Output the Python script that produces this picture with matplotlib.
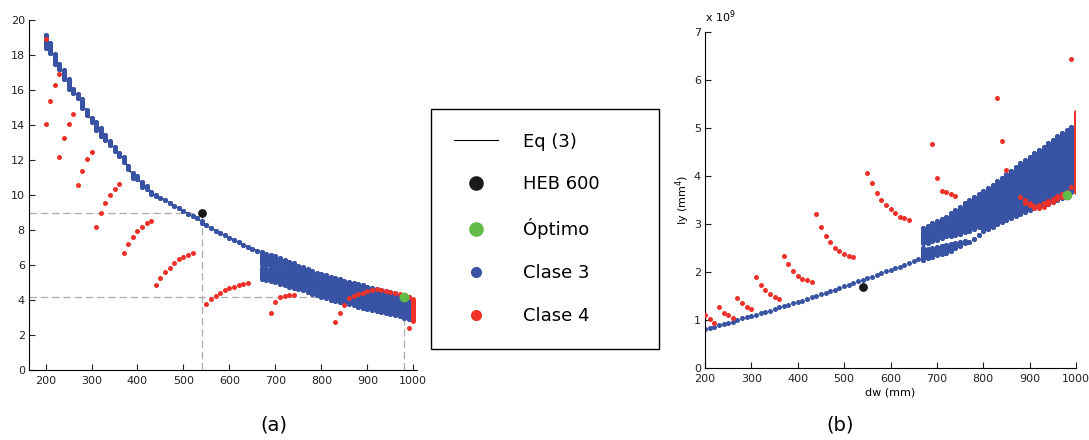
import numpy as np
import matplotlib.pyplot as plt
from matplotlib.lines import Line2D

BLUE = '#3853a4'
RED = '#ee3129'
GREEN = '#62bb46'
BLACK = '#1a1a1a'
GREY = '#ababab'

# ---------------- panel (a) ----------------
# single curve part (Clase 3), upper / lower dot of each dw
a_x = list(range(200, 670, 10))
a_hi = [19.13, 18.71, 18.06, 17.5, 17.15, 16.62, 16.05, 15.77, 15.48, 14.84,
        14.4, 14.17, 13.83, 13.45, 13.07, 12.77, 12.41, 12.16, 11.65, 11.27,
        11.08, 10.74, 10.51, 10.17, 10.0, 9.85, 9.71, 9.56, 9.39, 9.24,
        9.09, 8.93, 8.8, 8.67, 8.5, 8.27, 8.1, 7.96, 7.83, 7.7,
        7.56, 7.43, 7.3, 7.16, 7.05, 6.93, 6.82]
a_lo = [18.42, 18.12, 17.48, 17.19, 16.62, 16.05, 15.83, 15.52, 14.97, 14.6,
        14.15, 13.74, 13.4, 13.17, 12.87, 12.5, 12.22, 11.9, 11.46, 10.99,
        10.89, 10.47, 10.36, 10.04, 9.94, 9.85, 9.71, 9.56, 9.39, 9.24,
        9.09, 8.93, 8.8, 8.67, 8.42, 8.27, 8.1, 7.96, 7.83, 7.7,
        7.56, 7.43, 7.3, 7.16, 7.05, 6.93, 6.82]

# dense band (Clase 3), one column per dw
band_x = list(range(670, 1000, 10))
a_top = [6.73, 6.65, 6.57, 6.5, 6.4, 6.3, 6.2, 6.1, 5.97, 5.86, 5.76, 5.66,
         5.57, 5.5, 5.42, 5.34, 5.26, 5.18, 5.11, 5.03, 4.96, 4.89, 4.83,
         4.76, 4.7, 4.64, 4.57, 4.51, 4.45, 4.38, 4.31, 4.24, 4.15]
a_bot = [5.2, 5.13, 5.07, 5.02, 4.93, 4.85, 4.77, 4.7, 4.64, 4.55, 4.45, 4.35,
         4.26, 4.18, 4.1, 4.02, 3.95, 3.88, 3.82, 3.75, 3.69, 3.62, 3.56,
         3.5, 3.44, 3.39, 3.33, 3.28, 3.22, 3.14, 3.07, 3.0, 2.93]
a_gap_x = [670, 680, 690, 700, 710, 720, 730, 740]
a_gap_up = [6.05, 6.0, 5.95, 5.88, 5.82, 5.76, 5.7, 5.62]
a_gap_dn = [5.85, 5.8, 5.75, 5.7, 5.64, 5.58, 5.52, 5.46]

# Clase 4
a_red_x = [200,
           200, 210, 220, 230,
           230, 240, 250, 260,
           270, 280, 290, 300,
           310, 320, 330, 340, 350, 360,
           370, 380, 390, 400, 410, 420, 430,
           440, 450, 460, 470, 480, 490, 500, 510, 520,
           550, 560, 570, 580, 590, 600, 610, 620, 630, 640,
           690, 700, 710, 720, 730, 740,
           830, 840, 850, 860, 870, 880, 890, 900, 910, 920, 930, 940,
           950, 960, 970, 980, 990,
           990]
a_red_y = [18.92,
           14.08, 15.37, 16.3, 16.94,
           12.16, 13.26, 14.08, 14.61,
           10.59, 11.4, 12.05, 12.45,
           8.19, 8.95, 9.54, 10.0, 10.34, 10.65,
           6.67, 7.2, 7.6, 7.94, 8.19, 8.42, 8.53,
           4.84, 5.24, 5.62, 5.85, 6.1, 6.32, 6.48, 6.57, 6.67,
           3.79, 4.04, 4.21, 4.4, 4.55, 4.69, 4.76, 4.88, 4.93, 4.97,
           3.26, 3.87, 4.15, 4.25, 4.29, 4.29,
           2.72, 3.28, 3.7, 4.1, 4.23, 4.34, 4.42, 4.53, 4.57, 4.61, 4.57, 4.53,
           4.48, 4.38, 4.34, 4.25, 4.15,
           2.38]
a_red_col = (1000, 2.78, 4.05)

a_heb = (540, 9.0)
a_opt = (980, 4.2)

# ---------------- panel (b) ----------------
b_x = list(range(200, 670, 10))
b_y = [0.81, 0.83, 0.87, 0.90, 0.92, 0.95, 0.97, 1.01, 1.04, 1.06,
       1.09, 1.12, 1.15, 1.18, 1.20, 1.24, 1.27, 1.30, 1.32, 1.35,
       1.38, 1.41, 1.45, 1.48, 1.51, 1.54, 1.57, 1.60, 1.63, 1.67,
       1.71, 1.74, 1.77, 1.81, 1.84, 1.88, 1.91, 1.95, 1.98, 2.02,
       2.05, 2.09, 2.12, 2.16, 2.19, 2.23, 2.27]
b_top = [2.92, 2.97, 3.02, 3.06, 3.11, 3.16, 3.23, 3.30, 3.37, 3.44, 3.51,
         3.57, 3.63, 3.69, 3.76, 3.82, 3.90, 3.97, 4.05, 4.12, 4.20, 4.27,
         4.34, 4.41, 4.48, 4.55, 4.62, 4.69, 4.76, 4.83, 4.90, 4.96, 5.03]
b_bot = [2.26, 2.29, 2.32, 2.36, 2.38, 2.40, 2.45, 2.50, 2.55, 2.60, 2.64,
         2.70, 2.77, 2.85, 2.90, 2.95, 3.00, 3.05, 3.09, 3.13, 3.17, 3.21,
         3.25, 3.30, 3.33, 3.36, 3.40, 3.43, 3.47, 3.50, 3.55, 3.60, 3.68]
b_gap_x = [670, 680, 690, 700, 710, 720, 730, 740, 750, 760, 770, 780, 790]
b_gap_up = [2.60, 2.62, 2.65, 2.68, 2.72, 2.75, 2.75, 2.78, 2.80, 2.84, 2.86, 2.90, 2.95]
b_gap_dn = [2.50, 2.48, 2.50, 2.52, 2.55, 2.56, 2.58, 2.60, 2.64, 2.66, 2.64, 2.70, 2.77]

b_red_x = [200, 210, 220,
           230, 240, 250, 260,
           270, 280, 290, 300,
           310, 320, 330, 340, 350, 360,
           370, 380, 390, 400, 410, 420, 430,
           440, 450, 460, 470, 480, 490, 500, 510, 520,
           550, 560, 570, 580, 590, 600, 610, 620, 630, 640,
           690, 700, 710, 720, 730, 740,
           830, 840, 850,
           880, 890, 900, 910, 920, 930, 940, 950, 960, 970, 980, 990,
           890, 900, 910, 920, 930, 940, 950, 960, 970,
           990]
b_red_y = [1.11, 1.02, 0.95,
           1.28, 1.16, 1.10, 1.05,
           1.47, 1.37, 1.28, 1.24,
           1.90, 1.74, 1.63, 1.55, 1.48, 1.44,
           2.33, 2.17, 2.03, 1.93, 1.87, 1.83, 1.79,
           3.21, 2.94, 2.76, 2.63, 2.51, 2.45, 2.38, 2.33, 2.31,
           4.07, 3.85, 3.66, 3.51, 3.40, 3.31, 3.23, 3.16, 3.13, 3.09,
           4.67, 3.97, 3.70, 3.67, 3.63, 3.58,
           5.63, 4.73, 4.13,
           3.56, 3.51, 3.45, 3.39, 3.40, 3.44, 3.48, 3.53, 3.58, 3.63, 3.68, 3.78,
           3.45, 3.40, 3.34, 3.33, 3.37, 3.42, 3.47, 3.52, 3.57,
           6.45]
b_red_col = (1000, 3.68, 5.35)

b_heb = (540, 1.69)
b_opt = (980, 3.61)

DOT = 13      # scatter size of the small dots
LW = 3.6      # same diameter for the dense columns


def column_segments(xs, top, bot, gx, gup, gdn):
    segs = []
    for x, t, b in zip(xs, top, bot):
        if x in gx:
            i = gx.index(x)
            segs.append([(x, b), (x, gdn[i])])
            segs.append([(x, gup[i]), (x, t)])
        else:
            segs.append([(x, b), (x, t)])
    return segs


def draw_segments(ax, segs, color):
    for s in segs:
        (x, y0), (_, y1) = s
        ax.vlines(x, y0, y1, colors=color, linewidth=LW, capstyle='round', zorder=2)
        ax.scatter([x, x], [y0, y1], s=DOT, color=color, linewidths=0, zorder=2)


def style(ax):
    ax.spines['top'].set_visible(False)
    ax.spines['right'].set_visible(False)
    ax.spines['left'].set_linewidth(0.8)
    ax.spines['bottom'].set_linewidth(0.8)
    ax.tick_params(direction='in', length=4, width=0.8, labelsize=8, colors='#222222')
    ax.tick_params(axis='y', pad=3)
    ax.tick_params(axis='x', pad=4)


fig = plt.figure(figsize=(10.89, 4.4), dpi=100, facecolor='w')

# ---- (a) ----
ax1 = fig.add_axes([29 / 1089, 1 - 370 / 440, 388 / 1089, 350 / 440])
ax1.plot(a_x, [(h + l) / 2 for h, l in zip(a_hi, a_lo)], color='black', lw=0.8, zorder=1)
draw_segments(ax1, [[(x, l), (x, h)] for x, h, l in zip(a_x, a_hi, a_lo)], BLUE)
draw_segments(ax1, column_segments(band_x, a_top, a_bot, a_gap_x, a_gap_up, a_gap_dn), BLUE)
ax1.scatter(a_red_x, a_red_y, s=DOT, color=RED, linewidths=0, zorder=3)
ax1.vlines(a_red_col[0], a_red_col[1], a_red_col[2], colors=RED, linewidth=LW,
           capstyle='round', zorder=3)
ax1.set_xlim(164, 1008)
ax1.set_ylim(0, 20)
x0 = ax1.get_xlim()[0]
for px, py in (a_heb, a_opt):
    ax1.plot([x0, px], [py, py], color=GREY, lw=0.9, dashes=(6, 3), zorder=0)
    ax1.plot([px, px], [0, py], color=GREY, lw=0.9, dashes=(6, 3), zorder=0)
ax1.scatter(*a_heb, s=40, color=BLACK, linewidths=0, zorder=5)
ax1.scatter(*a_opt, s=50, color=GREEN, linewidths=0, zorder=5)
ax1.set_xticks(range(200, 1001, 100))
ax1.set_yticks(range(0, 21, 2))
style(ax1)

# ---- (b) ----
ax2 = fig.add_axes([705 / 1089, 1 - 368.3 / 440, 371 / 1089, 336 / 440])
ax2.scatter(b_x, b_y, s=DOT, color=BLUE, linewidths=0, zorder=2)
draw_segments(ax2, column_segments(band_x, b_top, b_bot, b_gap_x, b_gap_up, b_gap_dn), BLUE)
ax2.scatter(b_red_x, b_red_y, s=DOT, color=RED, linewidths=0, zorder=3)
ax2.vlines(b_red_col[0], b_red_col[1], b_red_col[2], colors=RED, linewidth=LW,
           capstyle='round', zorder=3)
ax2.scatter(*b_heb, s=40, color=BLACK, linewidths=0, zorder=5)
ax2.scatter(*b_opt, s=50, color=GREEN, linewidths=0, zorder=5)
ax2.set_xlim(200, 1000)
ax2.set_ylim(0, 7)
ax2.set_xticks(range(200, 1001, 100))
ax2.set_yticks(range(0, 8))
style(ax2)
ax2.set_ylabel('Iy (mm$^4$)', fontsize=8)
ax2.yaxis.set_label_coords(-0.035, 0.5)
ax2.set_xlabel('dw (mm)', fontsize=8)
ax2.xaxis.set_label_coords(0.5, -0.056)
ax2.text(0, 1.021, 'x 10$^9$', transform=ax2.transAxes, ha='left', va='bottom', fontsize=8)

# ---- legend ----
handles = [Line2D([], [], color='black', lw=0.8),
           Line2D([], [], ls='', marker='o', ms=9.5, mfc=BLACK, mec=BLACK),
           Line2D([], [], ls='', marker='o', ms=9.5, mfc=GREEN, mec=GREEN),
           Line2D([], [], ls='', marker='o', ms=7, mfc=BLUE, mec=BLUE),
           Line2D([], [], ls='', marker='o', ms=7, mfc=RED, mec=RED)]
labels = ['Eq (3)', 'HEB 600', 'Óptimo', 'Clase 3', 'Clase 4']
leg = fig.legend(handles, labels, loc='center',
                 bbox_to_anchor=(430.7 / 1089, 1 - 355 / 440, 228.6 / 1089, 252.3 / 440),
                 mode='expand', borderaxespad=0, fontsize=13, frameon=True,
                 fancybox=False, edgecolor='black', framealpha=1,
                 borderpad=1.3, labelspacing=1.38, handlelength=2.4, handletextpad=1.4)
leg.get_frame().set_linewidth(1.0)

fig.text(274 / 1089, 1 - 425 / 440, '(a)', ha='center', va='center', fontsize=14)
fig.text(840 / 1089, 1 - 425 / 440, '(b)', ha='center', va='center', fontsize=14)

plt.savefig('out.png', dpi=100, facecolor='w')
